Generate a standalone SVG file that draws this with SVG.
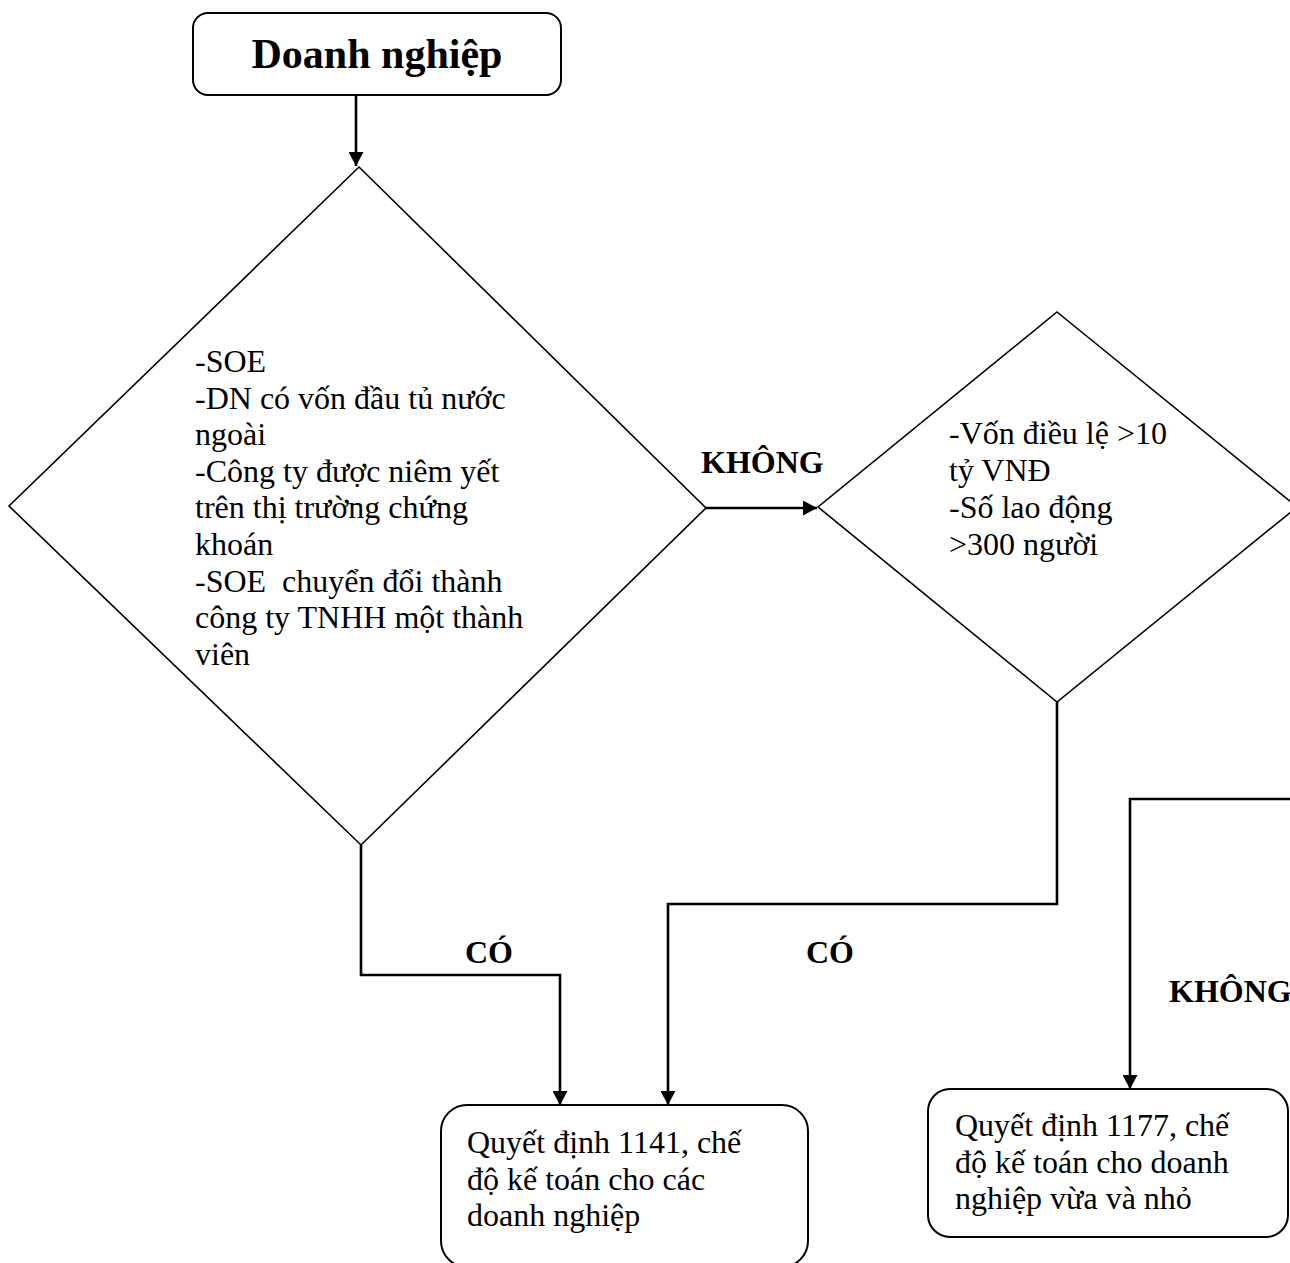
<svg xmlns="http://www.w3.org/2000/svg" width="1290" height="1263" viewBox="0 0 1290 1263">
<style>
.box{fill:#fff;stroke:#000;stroke-width:2}
.dia{fill:#fff;stroke:#000;stroke-width:1.6}
.con{fill:none;stroke:#000;stroke-width:2.6}
.t{font-family:"Liberation Serif","Times New Roman",serif;font-size:32px;fill:#000}
.b{font-family:"Liberation Serif","Times New Roman",serif;font-size:32px;font-weight:bold;fill:#000}
</style>
<defs>
<marker id="ah" markerUnits="userSpaceOnUse" markerWidth="14" markerHeight="15" viewBox="0 0 14 15" refX="14" refY="7.5" orient="auto">
<path d="M0,0 L14,7.5 L0,15 z" fill="#000"/>
</marker>
</defs>
<rect width="1290" height="1263" fill="#fff"/>
<g id="start">
<rect class="box" x="193" y="13" width="368" height="82" rx="15"/>
<text x="377" y="68" text-anchor="middle" class="b" style="font-size:42px">Doanh nghiệp</text>
</g>
<g id="decision1">
<polygon class="dia" points="359,167 706,508 361,845 9,506"/>
<text class="t" x="195" y="372">-SOE</text>
<text class="t" x="195" y="408.6">-DN có vốn đầu tủ nước</text>
<text class="t" x="195" y="445.2">ngoài</text>
<text class="t" x="195" y="481.8">-Công ty được niêm yết</text>
<text class="t" x="195" y="518.4">trên thị trường chứng</text>
<text class="t" x="195" y="555">khoán</text>
<text class="t" x="195" y="591.6" xml:space="preserve">-SOE  chuyển đổi thành</text>
<text class="t" x="195" y="628.2">công ty TNHH một thành</text>
<text class="t" x="195" y="664.8">viên</text>
</g>
<g id="decision2">
<polygon class="dia" points="1057,312 1297,507 1057,702 818,507"/>
<text class="t" x="949" y="444">-Vốn điều lệ &gt;10</text>
<text class="t" x="949" y="481">tỷ VNĐ</text>
<text class="t" x="949" y="518">-Số lao động</text>
<text class="t" x="949" y="555">&gt;300 người</text>
</g>
<g id="result1141">
<rect class="box" x="441" y="1105" width="367" height="162" rx="26"/>
<text class="t" x="467" y="1153">Quyết định 1141, chế</text>
<text class="t" x="467" y="1189.6">độ kế toán cho các</text>
<text class="t" x="467" y="1226.2">doanh nghiệp</text>
</g>
<g id="result1177">
<rect class="box" x="928" y="1089" width="360" height="148" rx="22"/>
<text class="t" x="955" y="1136">Quyết định 1177, chế</text>
<text class="t" x="955" y="1172.6">độ kế toán cho doanh</text>
<text class="t" x="955" y="1209.2">nghiệp vừa và nhỏ</text>
</g>
<g id="connectors">
<path class="con" d="M356 95 V166" marker-end="url(#ah)"/>
<path class="con" d="M706 508 H817" marker-end="url(#ah)"/>
<path class="con" d="M361 845 V975 H560 V1105" marker-end="url(#ah)"/>
<path class="con" d="M1057 702 V904 H668 V1105" marker-end="url(#ah)"/>
<path class="con" d="M1292 799 H1130 V1089" marker-end="url(#ah)"/>
<text class="b" x="701" y="473">KHÔNG</text>
<text class="b" x="465" y="963">CÓ</text>
<text class="b" x="806" y="963">CÓ</text>
<text class="b" x="1169" y="1002">KHÔNG</text>
</g>
</svg>
